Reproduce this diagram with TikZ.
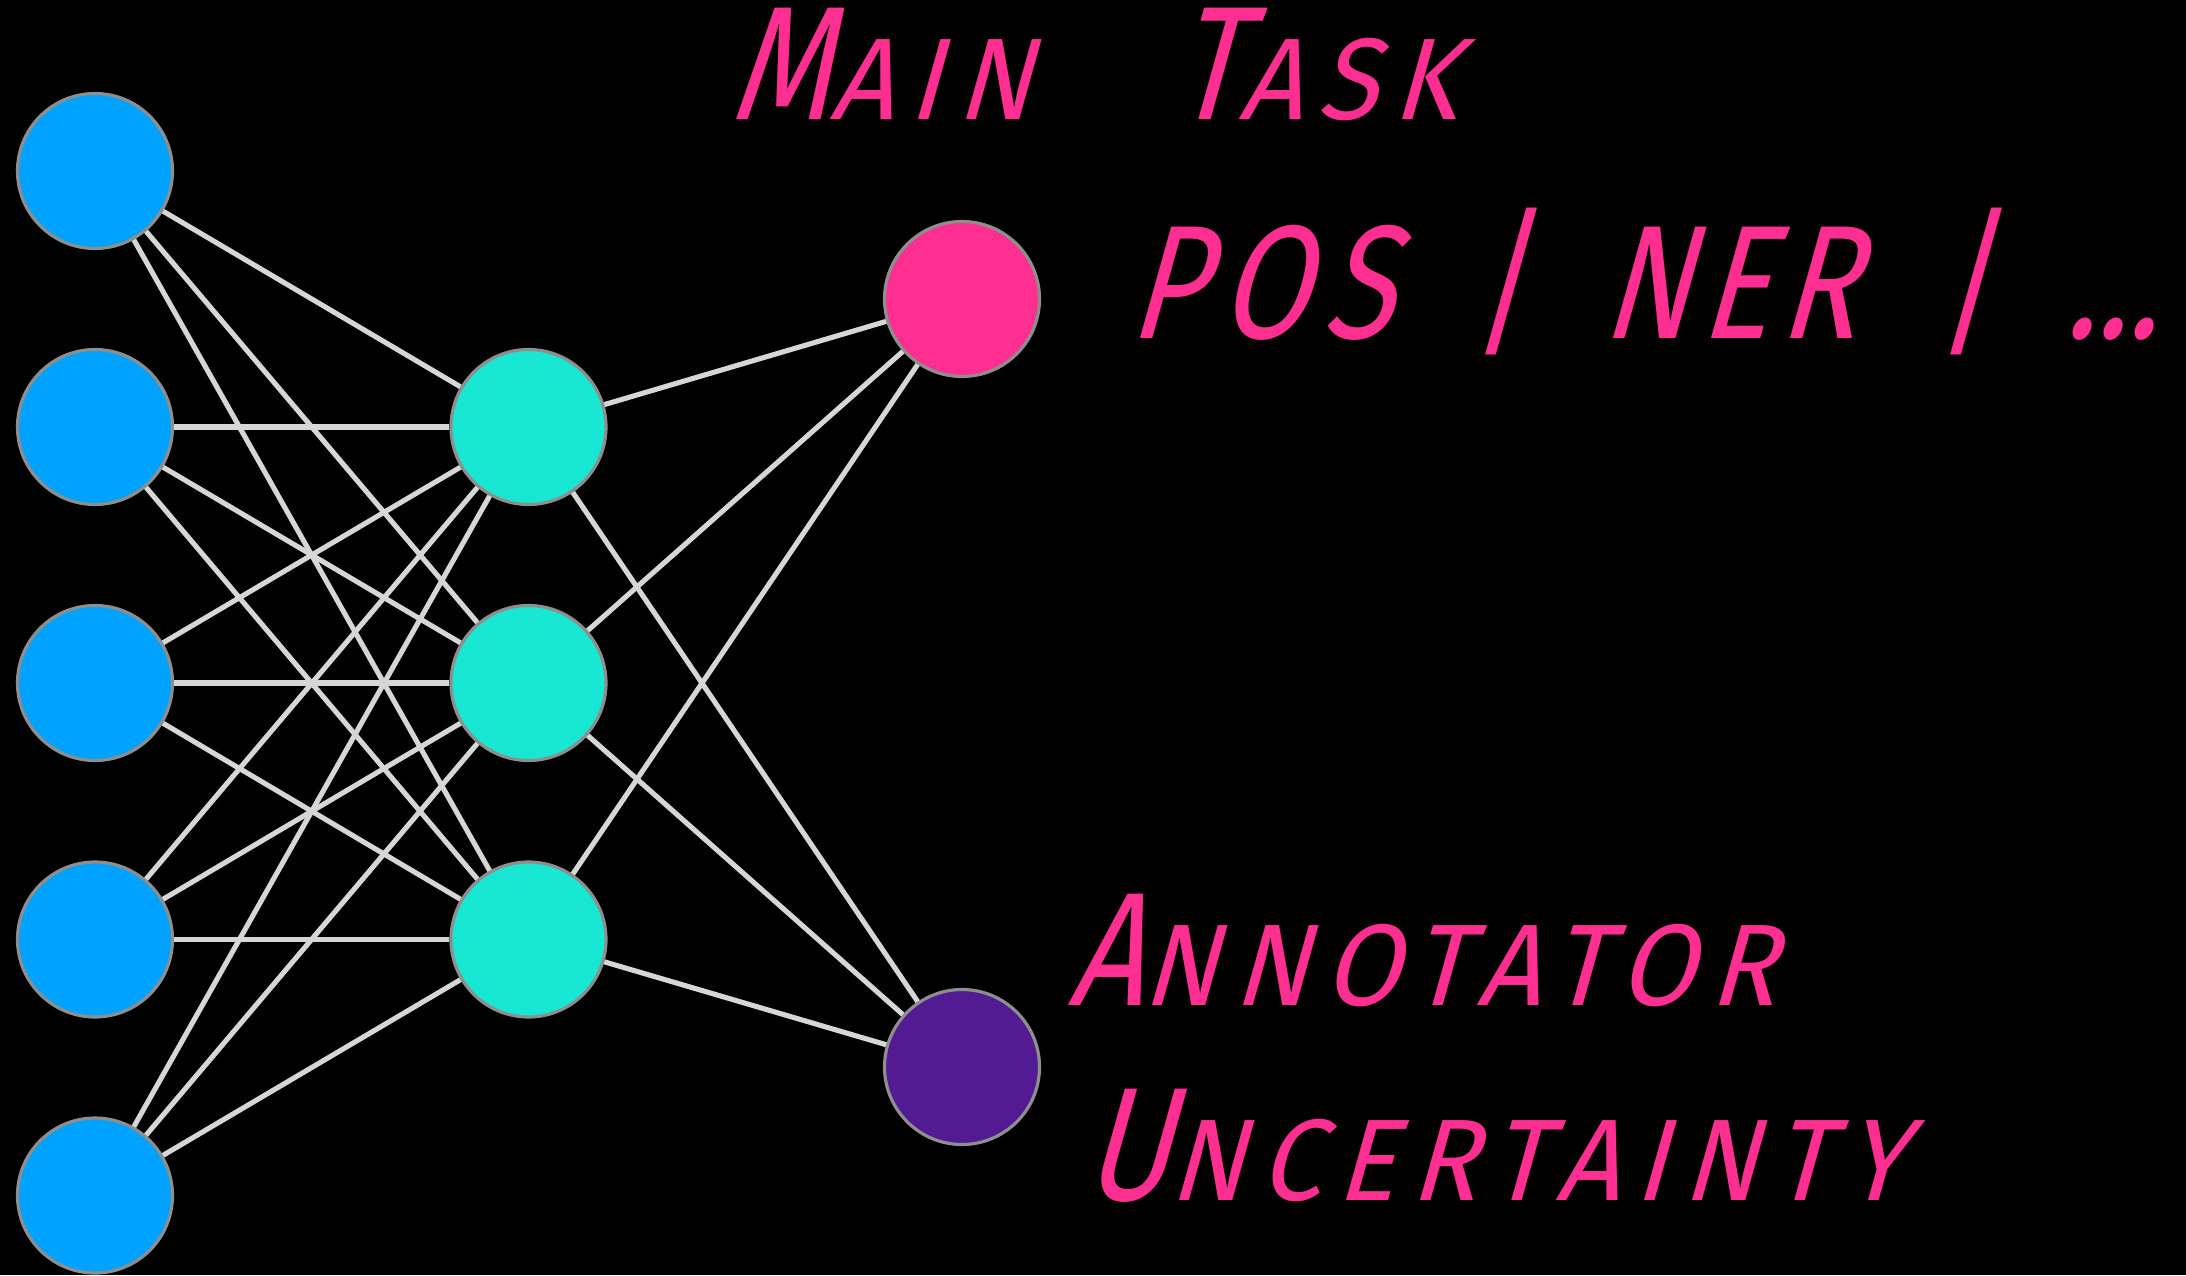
\documentclass[tikz,border=0pt]{standalone}
\usepackage{fontspec}
\newfontfamily\handfont[FakeStretch=0.95,FakeSlant=0.28,LetterSpace=13,WordSpace=1.6]{Fira Sans}
\newcommand{\bigletter}[1]{{\addfontfeatures{FakeStretch=0.8,LetterSpace=4}\fontsize{46}{50}\selectfont #1}}
\definecolor{bgblack}{HTML}{000000}
\definecolor{inblue}{HTML}{00A2FF}
\definecolor{hidteal}{HTML}{18E7D3}
\definecolor{taskpink}{HTML}{FF2F92}
\definecolor{uncpurple}{HTML}{531B93}
\definecolor{edgegray}{HTML}{D6D6D6}
\definecolor{ringgray}{HTML}{8E8E8E}
\tikzset{
  neuron/.style={circle, draw=ringgray, line width=0.9pt, minimum size=1.55cm, inner sep=0pt},
  wire/.style={draw=edgegray, line width=1.45pt},
  tasklabel/.style={text=taskpink, anchor=base west, inner sep=0pt,
    font=\handfont\fontsize{33}{40}\selectfont}
}
\begin{document}
\begin{tikzpicture}
\fill [bgblack] (0,0) rectangle (21.86,12.75);
\useasboundingbox (0,0) rectangle (21.86,12.75);
\node [neuron, fill=inblue] (in1) at (0.95, 11.04) {};
\node [neuron, fill=inblue] (in2) at (0.95, 8.48) {};
\node [neuron, fill=inblue] (in3) at (0.95, 5.92) {};
\node [neuron, fill=inblue] (in4) at (0.95, 3.355) {};
\node [neuron, fill=inblue] (in5) at (0.95, 0.795) {};
\node [neuron, fill=hidteal] (hid1) at (5.285, 8.48) {};
\node [neuron, fill=hidteal] (hid2) at (5.285, 5.92) {};
\node [neuron, fill=hidteal] (hid3) at (5.285, 3.355) {};
\node [neuron, fill=taskpink] (task) at (9.62, 9.76) {};
\node [neuron, fill=uncpurple] (unc) at (9.62, 2.08) {};
\foreach \i in {1,...,5}
  \foreach \j in {1,2,3}
    \draw [wire] (in\i) -- (hid\j);
\foreach \j in {1,2,3} {
  \draw [wire] (hid\j) -- (task);
  \draw [wire] (hid\j) -- (unc);
}
\node [tasklabel] (maintask) at (7.28, 11.55) {\bigletter{M}AIN\hspace{0.7cm} \bigletter{T}ASK};
\node [tasklabel] (tasklist) at (11.27, 9.37) {\bigletter{\addfontfeatures{LetterSpace=9}POS | N\hspace{0.1cm}E\hspace{0.1cm}R | {\addfontfeatures{LetterSpace=0}...}}};
\node [tasklabel] (annot) at (10.67, 2.70) {\bigletter{A}NNOTATOR};
\node [tasklabel] (uncert) at (10.82, 0.75) {\bigletter{U}NCERTAINTY};
\end{tikzpicture}
\end{document}
